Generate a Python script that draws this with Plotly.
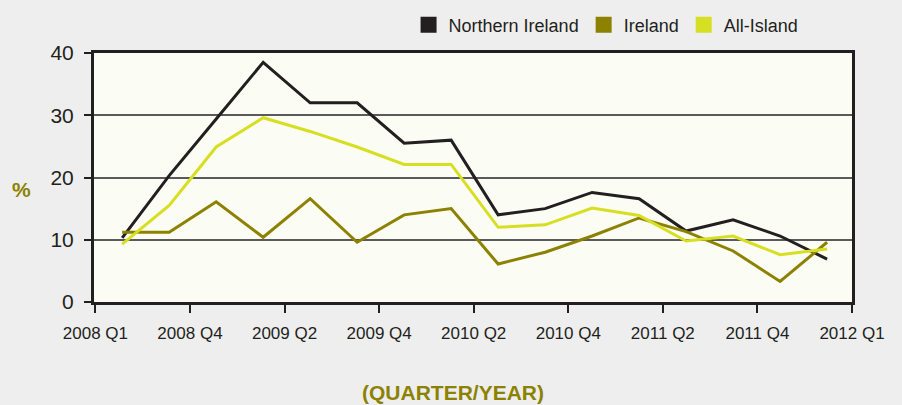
import plotly.graph_objects as go
import numpy as np

quarters = ["2008 Q1", "2008 Q2", "2008 Q3", "2008 Q4",
            "2009 Q1", "2009 Q2", "2009 Q3", "2009 Q4",
            "2010 Q1", "2010 Q2", "2010 Q3", "2010 Q4",
            "2011 Q1", "2011 Q2", "2011 Q3", "2011 Q4"]
northern_ireland = [10.3, 20.3, 29.4, 38.5, 32.0, 32.0, 25.5, 26.0,
                    14.0, 15.0, 17.6, 16.6, 11.4, 13.2, 10.6, 6.9]
ireland = [11.2, 11.2, 16.1, 10.4, 16.6, 9.6, 14.0, 15.0,
           6.1, 8.0, 10.6, 13.5, 11.3, 8.2, 3.3, 9.6]
all_island = [9.3, 15.5, 24.9, 29.6, 27.4, 24.9, 22.1, 22.1,
              12.0, 12.4, 15.1, 13.9, 9.8, 10.6, 7.6, 8.5]
tick_labels = ["2008 Q1", "2008 Q4", "2009 Q2", "2009 Q4", "2010 Q2",
               "2010 Q4", "2011 Q2", "2011 Q4", "2012 Q1"]

series = [
    ("Northern Ireland", northern_ireland, "#231F20"),
    ("Ireland", ireland, "#8C8200"),
    ("All-Island", all_island, "#D7DF23"),
]

x = list(range(len(quarters)))
fig = go.Figure()
for name, vals, color in series:
    fig.add_trace(go.Scatter(
        x=x, y=vals, mode="lines", name=name, showlegend=False,
        line=dict(color=color, width=3), text=quarters,
        hovertemplate="%{text}: %{y}%<extra>" + name + "</extra>"))
for name, vals, color in series:
    fig.add_trace(go.Scatter(
        x=[None], y=[None], mode="markers", name=name,
        marker=dict(symbol="square", size=17, color=color)))

xr = [-0.6, 15.53]
tickvals = np.linspace(-0.57, 15.53, len(tick_labels))

fig.update_layout(
    width=902, height=405,
    paper_bgcolor="#EEEEEE", plot_bgcolor="#FBFCF3",
    margin=dict(l=94, r=50, t=53, b=103, autoexpand=False),
    font=dict(family="Liberation Sans, Arial, sans-serif", color="#231F20"),
    legend=dict(orientation="h", x=0.415, xanchor="left", y=1.112, yanchor="middle",
                font=dict(size=18, color="#231F20"), bgcolor="rgba(0,0,0,0)",
                itemwidth=30),
    xaxis=dict(range=xr, tickvals=tickvals, ticktext=tick_labels,
               showgrid=False, zeroline=False, automargin=False,
               showline=True, linecolor="#231F20", linewidth=3, mirror=True,
               ticks="outside", ticklen=8, tickwidth=2, tickcolor="#231F20",
               ticklabelstandoff=6,
               tickfont=dict(size=17, color="#231F20")),
    yaxis=dict(range=[0, 40], tickvals=[0, 10, 20, 30, 40],
               showgrid=True, gridcolor="#5A5A5A", gridwidth=2, zeroline=False,
               automargin=False,
               showline=True, linecolor="#231F20", linewidth=3, mirror=True,
               ticks="outside", ticklen=7, tickwidth=2, tickcolor="#231F20",
               ticklabelstandoff=6,
               tickfont=dict(size=21, color="#231F20")),
    annotations=[
        dict(text="<b>%</b>", xref="paper", yref="paper", x=-0.095, y=0.45,
             xanchor="center", yanchor="middle", showarrow=False,
             font=dict(size=21, color="#8C8200")),
        dict(text="<b>(QUARTER/YEAR)</b>", xref="paper", yref="paper",
             x=0.473, y=-0.365, xanchor="center", yanchor="middle",
             showarrow=False, font=dict(size=21, color="#8C8200")),
    ],
)

fig.write_html("out.html", config={"displayModeBar": False},
               post_script="document.body.style.margin='0';")
